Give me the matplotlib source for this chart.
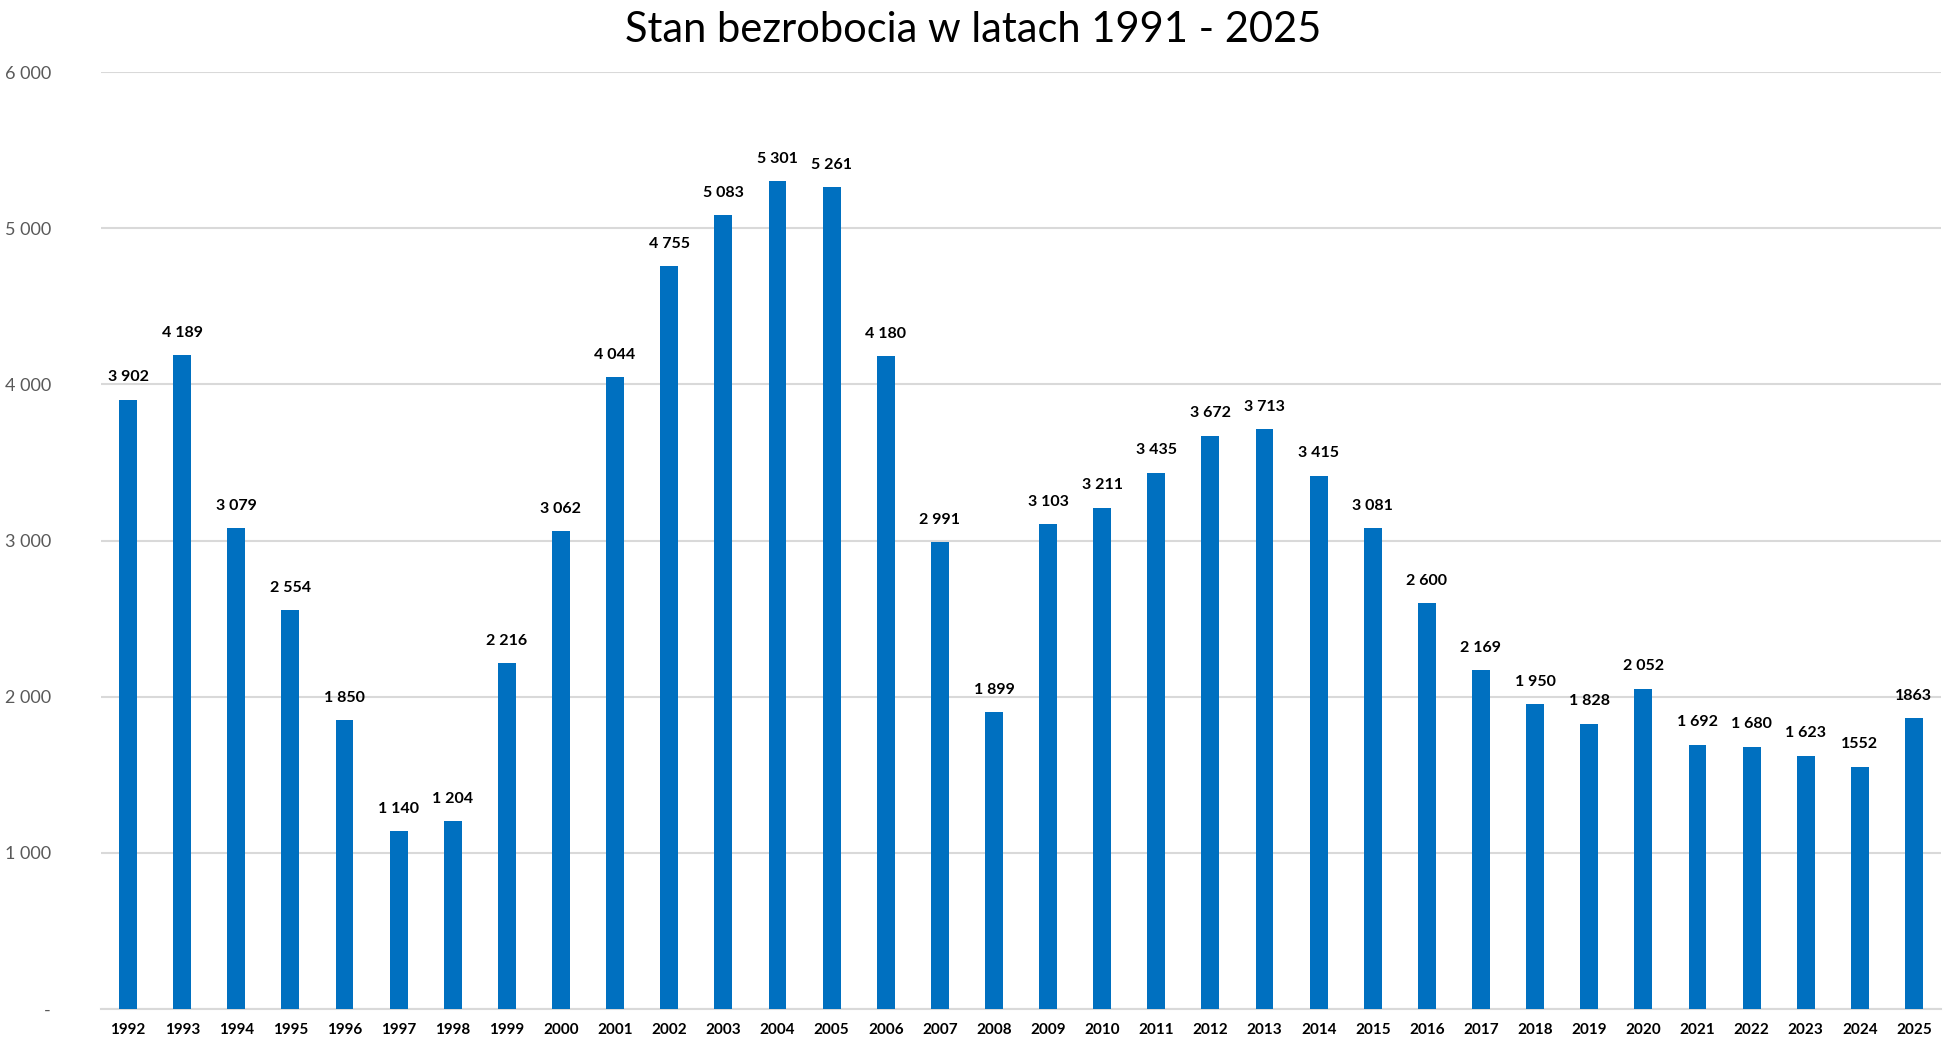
import matplotlib.pyplot as plt
import numpy

years = ['1992', '1993', '1994', '1995', '1996', '1997', '1998', '1999', '2000', '2001',
         '2002', '2003', '2004', '2005', '2006', '2007', '2008', '2009', '2010', '2011',
         '2012', '2013', '2014', '2015', '2016', '2017', '2018', '2019', '2020', '2021',
         '2022', '2023', '2024', '2025']
values = [3902, 4189, 3079, 2554, 1850, 1140, 1204, 2216, 3062, 4044,
          4755, 5083, 5301, 5261, 4180, 2991, 1899, 3103, 3211, 3435,
          3672, 3713, 3415, 3081, 2600, 2169, 1950, 1828, 2052, 1692,
          1680, 1623, 1552, 1863]
value_labels = ['3 902', '4 189', '3 079', '2 554', '1 850', '1 140', '1 204', '2 216', '3 062', '4 044',
                '4 755', '5 083', '5 301', '5 261', '4 180', '2 991', '1 899', '3 103', '3 211', '3 435',
                '3 672', '3 713', '3 415', '3 081', '2 600', '2 169', '1 950', '1 828', '2 052', '1 692',
                '1 680', '1 623', '1552', '1863']
y_ticks = [0, 1000, 2000, 3000, 4000, 5000, 6000]
y_tick_labels = ['-', '1 000', '2 000', '3 000', '4 000', '5 000', '6 000']

plt.rcParams['font.family'] = ['Lato', 'DejaVu Sans']

fig = plt.figure(figsize=(19.46, 10.39), dpi=100)
ax = fig.add_axes([101 / 1946, 1 - 1009 / 1039, 1840 / 1946, (1009 - 72) / 1039])

x = numpy.arange(len(years))
bars = ax.bar(x, values, width=0.33, color='#0070C0', zorder=3)

for xi, v, lab in zip(x, values, value_labels):
    ax.annotate(lab, (xi, v), xytext=(0, 11), textcoords='offset points',
                ha='center', va='bottom', fontsize=11.5, fontweight='bold', color='#000000')

ax.set_xlim(-0.5, len(years) - 0.5)
ax.set_ylim(0, 6000)
ax.set_xticks(x)
ax.set_xticklabels(years, fontsize=11, fontweight='bold', color='#000000')
ax.set_yticks(y_ticks)
ax.set_yticklabels(y_tick_labels, fontsize=13, color='#595959')
ax.tick_params(axis='both', length=0)
ax.tick_params(axis='y', pad=36)
ax.tick_params(axis='x', pad=10)

ax.grid(axis='y', color='#D9D9D9', linewidth=1.5, zorder=0)
for side in ['top', 'right', 'left']:
    ax.spines[side].set_visible(False)
ax.spines['bottom'].set_color('#D9D9D9')
ax.spines['bottom'].set_linewidth(1.5)

fig.text(0.5, 1 - 30 / 1039, 'Stan bezrobocia w latach 1991 - 2025', ha='center', va='center',
         fontsize=30, color='#000000')

fig.savefig('out.png', dpi=100)
